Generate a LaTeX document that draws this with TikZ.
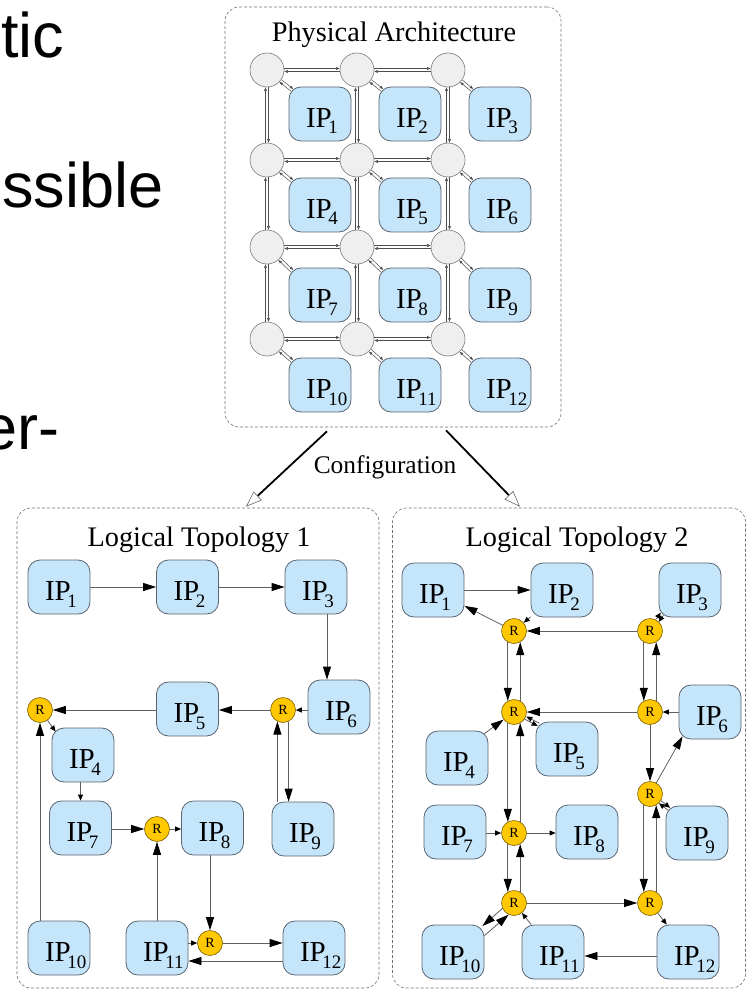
\documentclass[tikz,border=0pt]{standalone}
\usepackage{fontspec}
\setmainfont{Liberation Serif}
\newfontfamily\slidefont{Liberation Sans}
\usetikzlibrary{arrows.meta,calc}

\definecolor{ipfill}{HTML}{C5E5FB}
\definecolor{ipedge}{HTML}{5A6570}
\definecolor{rtfill}{HTML}{FFC800}
\definecolor{rtedge}{HTML}{7A5E00}
\definecolor{swfill}{HTML}{EFEFEF}
\definecolor{swedge}{HTML}{7A7A7A}
\definecolor{framegray}{HTML}{707070}
\definecolor{wire}{HTML}{606060}

% IP label: text starts at a fixed offset from the box's left side
\newcommand\iplab[1]{\makebox[28pt][l]{IP\kern-3.5pt\raisebox{-6.5pt}{\fontsize{19}{19}\selectfont #1}}}

\tikzset{
  ptip/.tip={Triangle[length=3.5pt,width=2.6pt]},
  btip/.tip={Triangle[length=13pt,width=8pt,color=black]},
  stip/.tip={Triangle[length=6pt,width=5pt,color=black]},
  ctip/.tip={Triangle[length=16pt,width=12pt,color=gray!80!black,fill=white,line width=0.6pt]},
  ipbox/.style={draw=ipedge, fill=ipfill, line width=0.8pt, rounded corners=12pt,
    minimum width=62pt, minimum height=54pt, inner sep=0pt,
    text height=27pt, text depth=0pt, font=\fontsize{29}{29}\selectfont},
  router/.style={circle, draw=rtedge, fill=rtfill, line width=0.6pt,
    minimum size=25pt, inner sep=0pt, font=\fontsize{14}{14}\selectfont},
  switch/.style={circle, draw=swedge, fill=swfill, line width=0.6pt,
    minimum size=34pt, inner sep=0pt},
  panel/.style={draw=framegray, dash pattern=on 3pt off 2pt, line width=0.6pt,
    rounded corners=14pt, inner sep=0pt},
  title/.style={font=\fontsize{28.3}{28.3}\selectfont, anchor=base},
  pl/.style={draw=wire!80!black, line width=0.5pt},
  la/.style={draw=wire, line width=0.8pt, -btip},
  ls/.style={draw=wire, line width=0.8pt, -stip},
  cfg/.style={draw=black, line width=1.8pt, -ctip},
}

\begin{document}
\begin{tikzpicture}[x=1pt, y=-1pt]
\useasboundingbox (0,0) rectangle (747,992);

% slide text fragments
\begin{scope}[every node/.style={inner sep=0pt, font=\slidefont\fontsize{63}{63}\selectfont}]
  \node[anchor=base west] (w1) at (1,58) {tic};
  \node[anchor=base west] (w2) at (2,208) {ssible};
  \node[anchor=base east] (w3) at (60,449) {er-};
\end{scope}

% panels
\node[panel, minimum width=336pt, minimum height=420pt] (pa) at (393,217) {};
\node[panel, minimum width=362pt, minimum height=480pt] (lt1) at (198,748) {};
\node[panel, minimum width=353pt, minimum height=480pt] (lt2) at (569,748) {};

\node[title] (tpa) at (394,42) {Physical Architecture};
\node[title] (tl1) at (199,546) {Logical Topology 1};
\node[title] (tl2) at (577,546) {Logical Topology 2};

% configuration arrows
\coordinate (cfa) at ([shift={(-66,4)}]pa.south);
\coordinate (cfb) at ([shift={(53,3)}]pa.south);
\coordinate (cta) at ([shift={(48,-1)}]lt1.north);
\coordinate (ctb) at ([shift={(-49,-1)}]lt2.north);
\draw[cfg] (cfa) -- (cta);
\draw[cfg] (cfb) -- (ctb);
\node[font=\fontsize{25.4}{25.4}\selectfont, anchor=base] (cfl) at (385,473) {Configuration};

% ---------- physical architecture ----------
\foreach \r/\y/\iy in {1/70/114, 2/160/205, 3/247/295, 4/339/385}
  \foreach \c/\x/\ix in {1/267/320, 2/357/410, 3/448/500} {
    \pgfmathtruncatemacro\n{(\r-1)*3+\c}
    \node[switch] (s\r\c) at (\x,\y) {};
    \node[ipbox] (p\n) at (\ix,\iy) {\iplab{\n}};
  }

\foreach \r in {1,2,3,4}
  \foreach \c/\d in {1/2, 2/3} {
    \draw[pl, -ptip, transform canvas={yshift=1.5pt}] (s\r\c) -- (s\r\d);
    \draw[pl, ptip-, transform canvas={yshift=-1.5pt}] (s\r\c) -- (s\r\d);
  }

\foreach \r/\q in {1/2, 2/3, 3/4}
  \foreach \c in {1,2,3} {
    \draw[pl, ptip-, transform canvas={xshift=-1.5pt}] (s\r\c) -- (s\q\c);
    \draw[pl, -ptip, transform canvas={xshift=1.5pt}] (s\r\c) -- (s\q\c);
  }

\foreach \r in {1,2,3,4}
  \foreach \c in {1,2,3} {
    \pgfmathtruncatemacro\n{(\r-1)*3+\c}
    \draw[pl, -ptip, transform canvas={shift={(1.1pt,1.1pt)}}] (s\r\c) -- ([shift={(3.5,3.5)}]p\n.north west);
    \draw[pl, ptip-, transform canvas={shift={(-1.1pt,-1.1pt)}}] (s\r\c) -- ([shift={(3.5,3.5)}]p\n.north west);
  }

% ---------- logical topology 1 ----------
\node[ipbox] (a1) at (59,587) {\iplab{1}};
\node[ipbox] (a2) at (187.5,587) {\iplab{2}};
\node[ipbox] (a3) at (316,587) {\iplab{3}};
\node[ipbox] (a4) at (83,755) {\iplab{4}};
\node[ipbox] (a5) at (187.5,709) {\iplab{5}};
\node[ipbox] (a6) at (339,707) {\iplab{6}};
\node[ipbox] (a7) at (80.5,828) {\iplab{7}};
\node[ipbox] (a8) at (212.5,828) {\iplab{8}};
\node[ipbox] (a9) at (303,829) {\iplab{9}};
\node[ipbox] (a10) at (59,948) {\iplab{10}};
\node[ipbox] (a11) at (157,948) {\iplab{11}};
\node[ipbox] (a12) at (314,948) {\iplab{12}};
\node[router] (ra) at (40,710) {R};
\node[router] (rb) at (283,710) {R};
\node[router] (rc) at (157,829) {R};
\node[router] (rd) at (210,943) {R};

\coordinate (a3d) at ([xshift=11pt]a3.south);
\draw[la] (a1) -- (a2);
\draw[la] (a2) -- (a3);
\draw[la] (a3d) -- (a3d |- a6.north);
\draw[ls] (a6.west |- rb) -- (rb);
\draw[la] (rb) -- (a5.east |- rb);
\draw[la] (a5.west |- ra) -- (ra);
\draw[ls] (ra) -- ([shift={(4,4)}]a4.north west);
\draw[ls] (a4.south -| a7) -- (a7.north);
\draw[la] (a7.east |- rc) -- (rc);
\draw[ls] (rc) -- (a8.west |- rc);
\draw[la] (a11) -- (rc);
\draw[la] (a8.south -| rd) -- (rd);
\draw[ls] (a11.east |- rd) -- (rd);
\draw[la] (rd) -- (a12.west |- rd);
\draw[la] ([yshift=-13pt]a12.west) -- ([yshift=-13pt]a11.east);
\draw[la] (a10.north -| ra) -- (ra);
\draw[la] (rb.-64) -- (rb.-64 |- a9.north);
\draw[la] (rb.-116 |- a9.north) -- (rb.-116);

% ---------- logical topology 2 ----------
\node[ipbox] (b1) at (433,590) {\iplab{1}};
\node[ipbox] (b2) at (562,590) {\iplab{2}};
\node[ipbox] (b3) at (690,590) {\iplab{3}};
\node[ipbox] (b4) at (457,758) {\iplab{4}};
\node[ipbox] (b5) at (567,749) {\iplab{5}};
\node[ipbox] (b6) at (710,712) {\iplab{6}};
\node[ipbox] (b7) at (455,832) {\iplab{7}};
\node[ipbox] (b8) at (587,832) {\iplab{8}};
\node[ipbox] (b9) at (697,833) {\iplab{9}};
\node[ipbox] (b10) at (453,952) {\iplab{10}};
\node[ipbox] (b11) at (553,952) {\iplab{11}};
\node[ipbox] (b12) at (688,952) {\iplab{12}};
\node[router] (sa) at (514,631) {R};
\node[router] (sb) at (650,631) {R};
\node[router] (sc) at (514,712) {R};
\node[router] (sd) at (650,712) {R};
\node[router] (se) at (514,833) {R};
\node[router] (sf) at (650,794) {R};
\node[router] (sg) at (514,903) {R};
\node[router] (sh) at (650,903) {R};

\coordinate (b3c) at ([shift={(3.5,-3.5)}]b3.south west);
\coordinate (b5c) at ([shift={(3,3)}]b5.north west);
\coordinate (b9c) at ([shift={(3.5,3.5)}]b9.north west);

\draw[la] (b1) -- (b2);
\draw[la] (sa) -- (b1);
\draw[ls] (b2) -- (sa);
\draw[la] (sb) -- (sa);
\draw[ls, transform canvas={shift={(-1.3pt,1.3pt)}}] (sb) -- (b3c);
\draw[ls, transform canvas={shift={(1.3pt,-1.3pt)}}] (b3c) -- (sb);
\draw[la] (sa.-119) -- (sc.119);
\draw[la] (sc.61) -- (sa.-61);
\draw[la] (sb.-119) -- (sd.119);
\draw[la] (sd.61) -- (sb.-61);
\draw[la] (sd) -- (sc);
\draw[ls] (b6.west |- sd) -- (sd);
\draw[la] ([shift={(-4,3)}]b4.north east) -- (sc);
\draw[ls, transform canvas={shift={(0.9pt,1.3pt)}}] (b5c) -- (sc);
\draw[ls, transform canvas={shift={(-0.9pt,-1.3pt)}}] (sc) -- (b5c);
\draw[la] (sc.-119) -- (se.119);
\draw[la] (se.61) -- (sc.-61);
\draw[ls] (b7.east |- se) -- (se);
\draw[ls] (se) -- (b8.west |- se);
\draw[la] (sd) -- (sf);
\draw[la] (sf) -- ([shift={(4,-3)}]b6.south west);
\draw[ls, transform canvas={shift={(1pt,1.25pt)}}] (sf) -- (b9c);
\draw[ls, transform canvas={shift={(-1pt,-1.25pt)}}] (b9c) -- (sf);
\draw[la] (sf.-119) -- (sh.119);
\draw[la] (sh.61) -- (sf.-61);
\draw[la] (se.-119) -- (sg.119);
\draw[la] (sg.61) -- (se.-61);
\draw[la] (sg) -- (sh);
\draw[ls] (sh) -- (b12);
\draw[la] ([yshift=-4pt]b12.west) -- ([yshift=-4pt]b11.east);
\draw[ls] (b11) -- (sg);
\draw[la] (sg.205) -- ([shift={(-2,1.5)}]b10.north east);
\draw[la] ([yshift=-11pt]b10.north east) -- (sg.245);
\end{tikzpicture}
\end{document}
